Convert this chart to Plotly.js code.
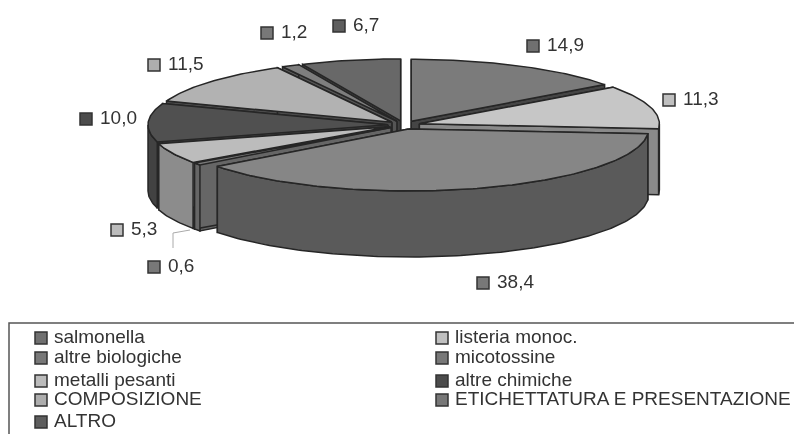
<!DOCTYPE html>
<html>
<head>
<meta charset="utf-8">
<script src="https://cdn.plot.ly/plotly-3.0.1.min.js"></script>
<style>
html,body{margin:0;padding:0;background:#fff;overflow:hidden}
#chart{width:794px;height:434px;filter:blur(0.55px)}
</style>
</head>
<body>
<div id="chart"></div>
<script>
// ---- data ----
const categories = ["salmonella","listeria monoc.","altre biologiche","micotossine","metalli pesanti","altre chimiche","COMPOSIZIONE","ETICHETTATURA E PRESENTAZIONE","ALTRO"];
const values = [14.9,11.3,38.4,0.6,5.3,10.0,11.5,1.2,6.7];
const valueLabels = ["14,9","11,3","38,4","0,6","5,3","10,0","11,5","1,2","6,7"];

// ---- styles ----
const topColors  = ["#7b7b7b","#c6c6c6","#868686","#7a7a7a","#bcbcbc","#505050","#b2b2b2","#7e7e7e","#686868"];
const sideColors = ["#454545","#8a8a8a","#5a5a5a","#666666","#8c8c8c","#424242","#4a4a4a","#555555","#404040"];
const legendColors = ["#707070","#c0c0c0","#787878","#787878","#bcbcbc","#4c4c4c","#aeaeae","#787878","#5e5e5e"];
const outline = "#262626";

// ---- layout of the drawing ----
const centre = {x:404, y:125}, rx = 240, ry = 62, depth = 66, explode = 16;
const labelX = [533,669,483,154,117,86,154,267,339];
const labelY = [46,100,283,267,230,119,65,33,26];
const legendX = [41,442,41,442,41,442,41,442,41];
const legendY = [338,338,358,358,381,381,400,400,422];
const legendTextGap = 14, labelTextGap = 14;

const total = values.reduce((a,b)=>a+b,0);
const rad = d => d*Math.PI/180;
let cum = 0;
const slices = values.map((v,i)=>{
  const a0 = cum/total*360; cum += v; const a1 = cum/total*360; const mid=(a0+a1)/2;
  return {i,a0,a1,mid,
    cx: centre.x + explode*Math.sin(rad(mid)),
    cy: centre.y - explode*(ry/rx)*Math.cos(rad(mid))};
});
const pt = (s,a,dz=0)=>[s.cx+rx*Math.sin(rad(a)), s.cy-ry*Math.cos(rad(a))+dz];

function poly(pts,color,name){
  return {type:"scatter",mode:"lines",x:pts.map(p=>p[0]),y:pts.map(p=>p[1]),
    fill:"toself",fillcolor:color,line:{color:outline,width:1.5},hoverinfo:"text",text:name,showlegend:false};
}
const traces = [];
slices.slice().sort((p,q)=>Math.cos(rad(q.mid))-Math.cos(rad(p.mid))).forEach(s=>{
  const name = categories[s.i]+": "+valueLabels[s.i], side = sideColors[s.i];
  const apex=[s.cx,s.cy], apexB=[s.cx,s.cy+depth];
  // cut faces
  [s.a0,s.a1].forEach(a=>{
    traces.push(poly([apex,pt(s,a),pt(s,a,depth),apexB,apex],side,name));
  });
  // outer wall (the front half only)
  const w0=Math.max(s.a0,90), w1=Math.min(s.a1,270);
  if(w1>w0){
    const upper=[],lower=[];
    for(let a=w0;a<w1;a+=1){upper.push(pt(s,a));lower.push(pt(s,a,depth));}
    upper.push(pt(s,w1));lower.push(pt(s,w1,depth));
    const wall=upper.concat(lower.reverse()); wall.push(upper[0]);
    traces.push(poly(wall,side,name));
  }
  // top surface
  const top=[apex];
  for(let a=s.a0;a<s.a1;a+=1) top.push(pt(s,a));
  top.push(pt(s,s.a1)); top.push(apex);
  traces.push(poly(top,topColors[s.i],name));
});

// value labels
traces.push({type:"scatter",mode:"markers",x:labelX,y:labelY,hoverinfo:"skip",showlegend:false,
  marker:{symbol:"square",size:12,color:legendColors,line:{color:"#333",width:1.5}}});
traces.push({type:"scatter",mode:"text",x:labelX.map(x=>x+labelTextGap),y:labelY,text:valueLabels,
  textposition:"middle right",hoverinfo:"skip",showlegend:false,
  textfont:{family:"Liberation Sans, Arial, sans-serif",size:19,color:"#333"}});
// legend
traces.push({type:"scatter",mode:"markers",x:legendX,y:legendY,hoverinfo:"skip",showlegend:false,
  marker:{symbol:"square",size:12,color:legendColors,line:{color:"#333",width:1.5}}});
traces.push({type:"scatter",mode:"text",x:legendX.map(x=>x+legendTextGap-1),y:legendY,text:categories,
  textposition:"middle right",hoverinfo:"skip",showlegend:false,
  textfont:{family:"Liberation Sans, Arial, sans-serif",size:19,color:"#333"}});

const layout = {
  width:794,height:434,margin:{l:0,r:0,t:0,b:0},
  paper_bgcolor:"#fff",plot_bgcolor:"#fff",showlegend:false,
  xaxis:{range:[0,794],visible:false,fixedrange:true},
  yaxis:{range:[434,0],visible:false,fixedrange:true},
  shapes:[
    {type:"path",path:"M 9 434 L 9 323 L 794 323",line:{color:"#555",width:1.5}},
    {type:"path",path:"M 190 230 L 173 233 L 173 248",line:{color:"#aaa",width:1}}
  ]
};
Plotly.newPlot("chart",traces,layout,{displayModeBar:false,staticPlot:true});
</script>
</body>
</html>
